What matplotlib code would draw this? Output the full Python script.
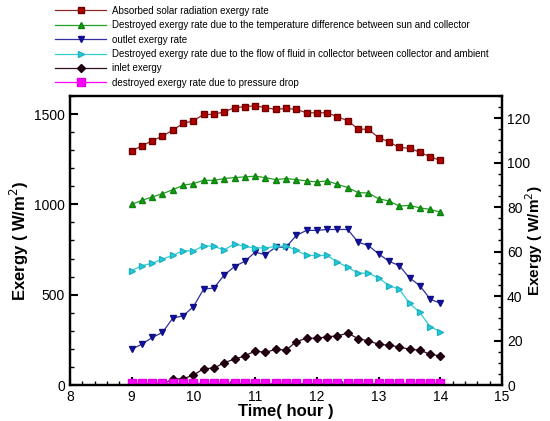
import matplotlib
matplotlib.use("Agg")
import matplotlib.pyplot as plt
from matplotlib.ticker import MultipleLocator
import numpy as np

plt.rcParams['font.family'] = ['Liberation Sans', 'DejaVu Sans']

time = [9 + i / 6 for i in range(31)]

absorbed = [1296, 1324, 1352, 1378, 1411, 1448, 1463, 1498, 1498, 1513, 1535, 1541, 1546, 1535, 1526,
            1531, 1526, 1507, 1507, 1507, 1485, 1463, 1417, 1415, 1370, 1346, 1315, 1311, 1289, 1263, 1244]
destroyed_temp = [1000, 1022, 1041, 1059, 1081, 1106, 1115, 1133, 1133, 1143, 1148, 1152, 1156, 1148, 1137,
                  1143, 1137, 1130, 1124, 1130, 1111, 1093, 1065, 1063, 1031, 1019, 991, 994, 981, 972, 957]
outlet = [198, 226, 263, 291, 370, 383, 433, 531, 537, 609, 656, 685, 735, 722, 763,
          763, 828, 856, 856, 861, 861, 861, 791, 772, 726, 685, 661, 593, 550, 476, 452]
destroyed_flow = [633, 661, 674, 698, 717, 744, 741, 772, 767, 748, 781, 767, 759, 759, 767,
                  770, 746, 717, 717, 717, 680, 652, 619, 619, 593, 550, 531, 452, 402, 322, 296]
inlet = [0, 0, 2, 5, 32, 35, 54, 91, 93, 124, 143, 161, 189, 180, 198,
         193, 240, 259, 259, 267, 272, 287, 257, 244, 226, 220, 211, 198, 193, 170, 161]
pressure_drop = [0.9] * 31

labels = ["Absorbed solar radiation exergy rate",
          "Destroyed exergy rate due to the temperature difference between sun and collector",
          "outlet exergy rate",
          "Destroyed exergy rate due to the flow of fluid in collector between collector and ambient",
          "inlet exergy",
          "destroyed exergy rate due to pressure drop"]

fig = plt.figure(figsize=(5.5, 4.21), dpi=100)
ax = fig.add_axes([0.127, 0.0855, 0.786, 0.6865])
ax2 = ax.twinx()

ms = 4.5
h = []
h += ax.plot(time, absorbed, '-s', color='#8a2a2a', mfc='#b00000', mec='#700000', ms=ms, lw=0.9)
h += ax.plot(time, destroyed_temp, '-^', color='#20a020', mfc='#10a010', mec='#108010', ms=ms + 0.5, lw=0.9)
h += ax.plot(time, outlet, '-v', color='#3030a0', mfc='#1010b0', mec='#101080', ms=ms + 0.5, lw=0.9)
h += ax.plot(time, destroyed_flow, '->', color='#30d0d0', mfc='#20d0e0', mec='#20b0c0', ms=ms + 0.5, lw=0.9)
h += ax.plot(time, inlet, '-D', color='#301020', mfc='#200010', mec='#200010', ms=ms - 0.5, lw=0.9)
h += ax2.plot(time, pressure_drop, '-s', color='#ff00ff', mfc='#ff00ff', mec='#e000e0', ms=ms + 1, lw=0.9)

ax.set_xlim(8, 15)
ax.set_ylim(0, 1600)
ax2.set_ylim(0, 130)
ax.xaxis.set_major_locator(MultipleLocator(1))
ax.xaxis.set_minor_locator(MultipleLocator(0.2))
ax.yaxis.set_major_locator(MultipleLocator(500))
ax.yaxis.set_minor_locator(MultipleLocator(100))
ax2.yaxis.set_major_locator(MultipleLocator(20))
ax2.yaxis.set_minor_locator(MultipleLocator(5))

for a in (ax, ax2):
    for s in a.spines.values():
        s.set_linewidth(1.6)
ax.tick_params(axis='both', which='major', direction='in', length=6, width=1.5, labelsize=10)
ax.tick_params(axis='both', which='minor', direction='in', length=3, width=1)
ax.tick_params(axis='x', top=False, which='both')
ax2.tick_params(axis='y', which='major', direction='in', length=6, width=1.5, labelsize=10)
ax2.tick_params(axis='y', which='minor', direction='in', length=3, width=1)

ax.set_xlabel("Time( hour )", fontsize=12, fontweight='bold', labelpad=0)
ax.set_ylabel("Exergy ( W/m$^2$)", fontsize=12, fontweight='bold', labelpad=2)
ax2.set_ylabel("Exergy ( W/m$^2$)", fontsize=11, fontweight='bold')
ax2.yaxis.set_label_coords(1.05, 0.5)

fig.legend(h, labels, loc='upper left', bbox_to_anchor=(0.09, 1.0), frameon=False,
           fontsize=7, handlelength=5.2, labelspacing=0.45, handletextpad=0.6, borderaxespad=0.2)

fig.savefig("out.png", dpi=100)
